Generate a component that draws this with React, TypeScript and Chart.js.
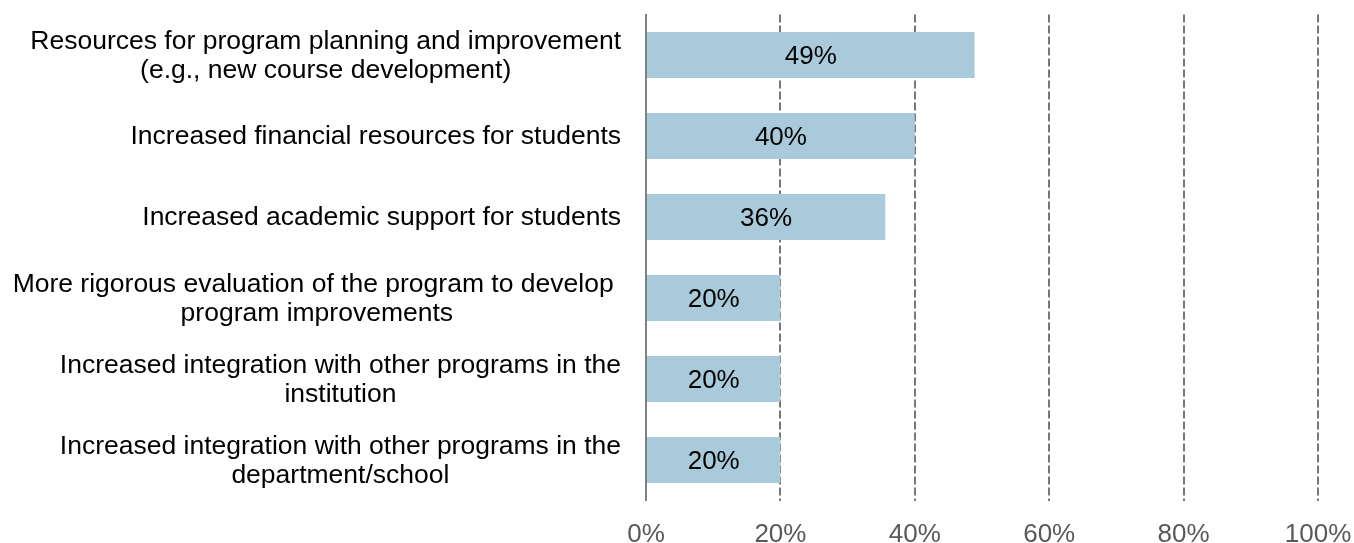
import React, { useEffect, useRef } from "react";
import { Chart, registerables } from "chart.js";

Chart.register(...registerables);

const categories: string[][] = [
  ["Resources for program planning and improvement", "(e.g., new course development)"],
  ["Increased financial resources for students"],
  ["Increased academic support for students"],
  ["More rigorous evaluation of the program to develop ", "program improvements"],
  ["Increased integration with other programs in the", "institution"],
  ["Increased integration with other programs in the", "department/school"],
];
const values: number[] = [48.9, 40, 35.6, 20, 20, 20];
const valueLabels: string[] = ["49%", "40%", "36%", "20%", "20%", "20%"];
const xTicks: number[] = [0, 20, 40, 60, 80, 100];

const FONT = "'Liberation Sans', Arial, Helvetica, sans-serif";

export default function App() {
  const ref = useRef<HTMLCanvasElement | null>(null);
  useEffect(() => {
    const canvas = ref.current;
    if (!canvas) return;

    const valueLabelPlugin = {
      id: "valueLabels",
      afterDatasetsDraw(chart: any) {
        const ctx = chart.ctx;
        const meta = chart.getDatasetMeta(0);
        ctx.save();
        ctx.font = `26px ${FONT}`;
        ctx.fillStyle = "#000000";
        ctx.textAlign = "center";
        ctx.textBaseline = "middle";
        meta.data.forEach((bar: any, i: number) => {
          ctx.fillText(valueLabels[i], (bar.base + bar.x) / 2, bar.y + 1.5);
        });
        ctx.restore();
      },
    };

    const categoryLabelPlugin = {
      id: "categoryLabels",
      afterDraw(chart: any) {
        const ctx = chart.ctx;
        const yScale = chart.scales.y;
        const right = chart.chartArea.left - 25;
        const lh = 28.5;
        ctx.save();
        ctx.font = `26.5px ${FONT}`;
        ctx.fillStyle = "#000000";
        ctx.textAlign = "center";
        ctx.textBaseline = "middle";
        categories.forEach((lines, i) => {
          const w = Math.max(...lines.map((l) => ctx.measureText(l).width));
          const cx = right - w / 2;
          const cy = yScale.getPixelForValue(i);
          const y0 = cy - ((lines.length - 1) * lh) / 2;
          lines.forEach((l, j) => ctx.fillText(l, cx, y0 + j * lh + 1));
        });
        ctx.restore();
      },
    };

    const chart = new Chart(canvas, {
      type: "bar",
      data: {
        labels: categories.map((c) => c.join(" ")),
        datasets: [
          {
            data: values,
            backgroundColor: "#A8CADB",
            borderWidth: 0,
            barPercentage: 1,
            categoryPercentage: 0.568,
          },
        ],
      },
      options: {
        indexAxis: "y",
        responsive: false,
        animation: false,
        events: [],
        layout: { padding: { left: 0, right: 36, top: 14.5, bottom: 0 } },
        plugins: { legend: { display: false }, tooltip: { enabled: false } },
        scales: {
          y: {
            type: "category",
            ticks: { display: false },
            grid: { display: false },
            border: { display: true, color: "#808080", width: 2 },
            afterFit: (scale: any) => {
              scale.width = 646;
            },
          },
          x: {
            type: "linear",
            min: 0,
            max: 100,
            afterBuildTicks: (scale: any) => {
              scale.ticks = xTicks.map((v) => ({ value: v }));
            },
            ticks: {
              callback: (v: any) => `${v}%`,
              color: "#595959",
              font: { size: 26, family: FONT },
              padding: 19,
              maxRotation: 0,
              minRotation: 0,
            },
            grid: {
              color: (c: any) => (c.tick && c.tick.value === 0 ? "rgba(0,0,0,0)" : "#777777"),
              lineWidth: 2,
              drawTicks: false,
            },
            border: { display: false, dash: [8, 3] },
            afterFit: (scale: any) => {
              scale.height = 42.5;
              scale.paddingLeft = 0;
              scale.paddingRight = 0;
            },
          },
        },
      },
      plugins: [valueLabelPlugin, categoryLabelPlugin],
    });
    return () => chart.destroy();
  }, []);

  return (
    <div style={{ position: "fixed", left: 0, top: 0, width: 1354, height: 543, background: "#ffffff" }}>
      <canvas ref={ref} width={1354} height={543} style={{ width: 1354, height: 543, display: "block" }} />
    </div>
  );
}
